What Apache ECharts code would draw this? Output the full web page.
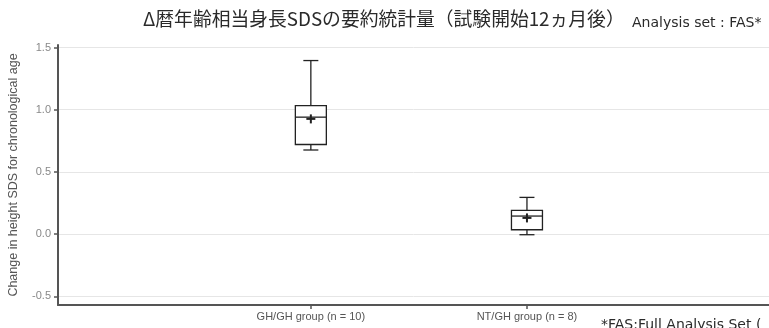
<!DOCTYPE html>
<html>
<head>
<meta charset="utf-8">
<script src="https://cdn.jsdelivr.net/npm/echarts@6/dist/echarts.min.js"></script>
<style>
  html, body { margin: 0; padding: 0; background: #fff; }
  #chart { width: 769px; height: 328px; }
</style>
</head>
<body>
<div id="chart"></div>
<script>
// Summary statistics of change in height SDS, per treatment group
const categories = ['GH/GH group (n = 10)', 'NT/GH group (n = 8)'];
const whiskerLow = [0.676, -0.005];
const q1 = [0.72, 0.035];
const median = [0.94, 0.145];
const q3 = [1.033, 0.19];
const whiskerHigh = [1.395, 0.295];
const mean = [0.926, 0.13];
const yTicks = [-0.5, 0, 0.5, 1.0, 1.5];

// groups sit at x = 1, 2 on a numeric axis
const positions = categories.map((_, i) => i + 1);
const rows = categories.map((_, i) => [positions[i], whiskerLow[i], q1[i], median[i], q3[i], whiskerHigh[i], mean[i]]);

const BOX_W = 31;
const CAP_W = 15;
const PLUS = 4.5;
const STROKE = '#222';

function renderBox(params, api) {
  const x = api.value(0);
  const pLow = api.coord([x, api.value(1)]);
  const pQ1 = api.coord([x, api.value(2)]);
  const pMed = api.coord([x, api.value(3)]);
  const pQ3 = api.coord([x, api.value(4)]);
  const pHigh = api.coord([x, api.value(5)]);
  const pMean = api.coord([x, api.value(6)]);
  const cx = pMed[0];
  const line = (x1, y1, x2, y2, w) => ({
    type: 'line',
    shape: { x1, y1, x2, y2 },
    style: { stroke: STROKE, lineWidth: w || 1.3 }
  });
  return {
    type: 'group',
    children: [
      line(cx, pQ3[1], cx, pHigh[1]),
      line(cx, pQ1[1], cx, pLow[1]),
      line(cx - CAP_W / 2, pHigh[1], cx + CAP_W / 2, pHigh[1]),
      line(cx - CAP_W / 2, pLow[1], cx + CAP_W / 2, pLow[1]),
      {
        type: 'rect',
        shape: { x: cx - BOX_W / 2, y: pQ3[1], width: BOX_W, height: pQ1[1] - pQ3[1] },
        style: { fill: '#fff', stroke: STROKE, lineWidth: 1.3 }
      },
      line(cx - BOX_W / 2, pMed[1], cx + BOX_W / 2, pMed[1]),
      line(cx - PLUS, pMean[1], cx + PLUS, pMean[1], 2),
      line(cx, pMean[1] - PLUS, cx, pMean[1] + PLUS, 2)
    ]
  };
}

const chart = echarts.init(document.getElementById('chart'), null, { renderer: 'canvas' });
chart.setOption({
  animation: false,
  backgroundColor: '#fff',
  title: [
    {
      text: 'Δ暦年齢相当身長SDSの要約統計量（試験開始12ヵ月後）',
      left: 138, top: 4,
      textStyle: { fontFamily: 'Noto Sans CJK JP', fontSize: 18.8, fontWeight: 'normal', color: '#2a2a2a' }
    },
    {
      text: 'Analysis set : FAS*',
      left: 627, top: 11,
      textStyle: { fontFamily: 'DejaVu Sans', fontSize: 14, fontWeight: 'normal', color: '#2a2a2a' }
    },
    {
      text: '*FAS:Full Analysis Set (',
      left: 596, top: 313,
      textStyle: { fontFamily: 'DejaVu Sans', fontSize: 14, fontWeight: 'normal', color: '#2a2a2a' }
    }
  ],
  grid: { left: 58, right: 0, top: 45, bottom: 23, containLabel: false, outerBoundsMode: 'none' },
  xAxis: {
    type: 'value',
    min: -0.17,
    max: 3.12,
    splitLine: { show: false },
    axisLine: { show: true, onZero: false, lineStyle: { color: '#555', width: 2 } },
    axisTick: { show: true, customValues: positions, length: 4, lineStyle: { color: '#555', width: 1.5 } },
    axisLabel: {
      customValues: positions,
      formatter: v => categories[Math.round(v) - 1] || '',
      fontFamily: 'Liberation Sans', fontSize: 11, color: '#555', margin: 6
    }
  },
  yAxis: {
    type: 'value',
    min: -0.57,
    max: 1.52,
    name: 'Change in height SDS for chronological age',
    nameLocation: 'middle',
    nameGap: 38,
    nameTextStyle: { fontFamily: 'Liberation Sans', fontSize: 12.5, color: '#555' },
    axisLine: { show: true, onZero: false, lineStyle: { color: '#555', width: 2 } },
    axisTick: { show: true, customValues: yTicks, length: 4, lineStyle: { color: '#555', width: 1.5 } },
    axisLabel: {
      customValues: yTicks,
      formatter: v => v.toFixed(1),
      fontFamily: 'Liberation Sans', fontSize: 11, color: '#888', margin: 7
    },
    splitLine: { show: true, lineStyle: { color: '#e6e6e6', width: 1 } }
  },
  series: [
    {
      type: 'custom',
      renderItem: renderBox,
      data: rows,
      encode: { x: 0, y: [1, 2, 3, 4, 5, 6] },
      clip: false,
      z: 5
    }
  ]
});
</script>
</body>
</html>
